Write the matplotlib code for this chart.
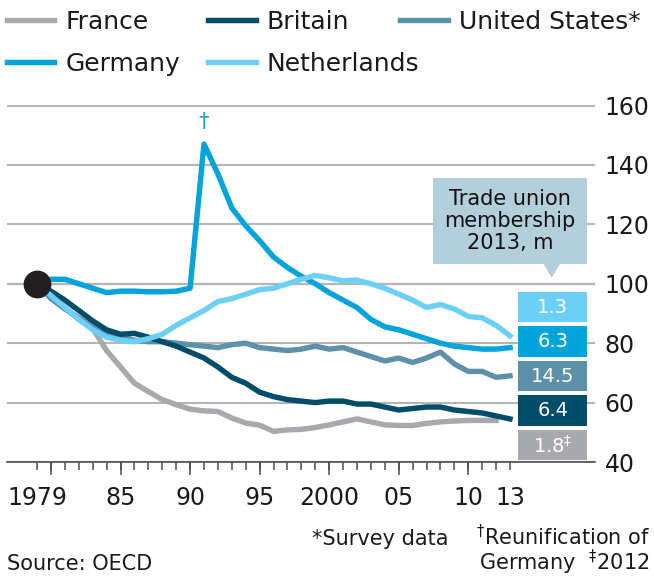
import numpy as np
import matplotlib
matplotlib.use("Agg")
import matplotlib.pyplot as plt
from matplotlib.patches import Rectangle, Polygon

# index, 1979 = 100
years = list(range(1979, 2014))

france = [100, 96, 92, 88, 85, 77.5, 72, 66.5, 63.7, 61, 59.3, 57.8, 57.2, 57, 54.8,
          53.1, 52.4, 50.3, 50.8, 51, 51.6, 52.5, 53.5, 54.5, 53.5, 52.5, 52.3, 52.3,
          53, 53.5, 53.8, 54, 54, 54, np.nan]
britain = [100, 97.5, 94.5, 91, 87.5, 84.5, 83, 83.3, 82, 80.5, 79, 77, 75, 72, 68.5,
           66.5, 63.5, 62, 61, 60.5, 60, 60.5, 60.5, 59.5, 59.5, 58.5, 57.5, 58, 58.5,
           58.5, 57.5, 57, 56.5, 55.5, 54.5]
united_states = [100, 95, 91.5, 88.5, 85.5, 83, 82, 81, 80.5, 80.5, 80, 79.5, 79, 78.5,
                 79.5, 80, 78.5, 78, 77.5, 78, 79, 78, 78.5, 77, 75.5, 74, 75, 73.5, 75,
                 77, 73, 70.5, 70.5, 68.5, 69]
germany = [100, 101.5, 101.5, 100, 98.5, 97, 97.5, 97.5, 97.3, 97.3, 97.5, 98.5, 147,
           137, 125.5, 119.5, 114.5, 109, 105.5, 102.5, 100, 97, 94.5, 92, 88, 85.5,
           84.5, 83, 81.5, 80, 79, 78.5, 78, 78, 78.5]
netherlands = [100, 96, 92, 88, 84.5, 82, 81, 80.5, 81.5, 83, 86, 88.5, 91, 94, 95, 96.5,
               98, 98.5, 100, 101.5, 102.8, 102, 101, 101.2, 100, 98.5, 96.5, 94.5, 92,
               93, 91.5, 89, 88.5, 86, 82.5]

# trade union membership 2013, millions (top to bottom)
members = ["1.3", "6.3", "14.5", "6.4", "1.8$^{\\ddagger}$"]

tick_years = [1979, 1985, 1990, 1995, 2000, 2005, 2010, 2013]
tick_labels = ["1979", "85", "90", "95", "2000", "05", "10", "13"]

c_france = "#a7a9ac"
c_britain = "#004d6a"
c_us = "#5d91aa"
c_germany = "#00a4db"
c_nl = "#6ccff6"

fig = plt.figure(figsize=(6.54, 5.79), dpi=100)
ax = fig.add_axes([7 / 654, 117 / 579, 588 / 654, 356.5 / 579])

lw = 3.9
l_fr, = ax.plot(years, france, color=c_france, lw=lw, label="France", zorder=3)
l_us, = ax.plot(years, united_states, color=c_us, lw=lw, label="United States*", zorder=4)
l_br, = ax.plot(years, britain, color=c_britain, lw=lw, label="Britain", zorder=5)
l_de, = ax.plot(years, germany, color=c_germany, lw=lw, label="Germany", zorder=6)
l_nl, = ax.plot(years, netherlands, color=c_nl, lw=lw, label="Netherlands", zorder=7)
ax.plot([years[0]], [germany[0]], "o", color="#231f20", ms=19, zorder=10)

ax.text(1991, 151, "\u2020", color=c_germany, fontsize=15, ha="center", va="bottom")

ax.set_xlim(1976.84, 2019.11)
ax.set_ylim(40, 160)

# grid and reference line
ax.set_yticks([40, 60, 80, 100, 120, 140, 160])
ax.yaxis.tick_right()
ax.tick_params(axis="y", length=0, pad=7, labelsize=17, labelcolor="#1a1a1a")
ax.grid(axis="y", color="#b5b5b5", lw=1.5, zorder=0)
ax.axhline(100, color="#e3120b", lw=1.5, zorder=1)

for s in ["top", "left", "right"]:
    ax.spines[s].set_visible(False)
ax.spines["bottom"].set_color("#4d4d4d")
ax.spines["bottom"].set_linewidth(1.2)
ax.spines["bottom"].set_zorder(2)

ax.xaxis.remove_overlapping_locs = False
ax.set_xticks(tick_years, tick_labels)
ax.set_xticks(years, minor=True)
ax.tick_params(axis="x", which="major", length=0, pad=17, labelsize=17, labelcolor="#1a1a1a")
ax.tick_params(axis="x", which="minor", length=6, width=1.1, color="#4d4d4d")
sec = ax.secondary_xaxis("bottom")
sec.set_xticks(range(1980, 2011, 5))
sec.tick_params(length=9.5, width=1.1, color="#4d4d4d", labelbottom=False)
sec.spines["bottom"].set_visible(False)

# membership boxes
box_colors = [c_nl, c_germany, c_us, c_britain, "#a7a9ac"]
box_bottoms = [87.0, 75.4, 63.8, 52.2, 40.6]
for lab, col, b in zip(members, box_colors, box_bottoms):
    ax.add_patch(Rectangle((2013.6, b), 4.95, 10.3, color=col, zorder=8, lw=0))
    ax.text(2016.07, b + 5.0, lab, color="white", fontsize=14, ha="center",
            va="center", zorder=9)

# callout
call_col = "#b3cfdc"
ax.add_patch(Rectangle((2007.47, 106.6), 11.07, 29.0, color=call_col, lw=0, zorder=8))
ax.add_patch(Polygon([(2015.4, 106.7), (2016.6, 106.7), (2016.0, 102.0)],
                     closed=True, color=call_col, lw=0, zorder=8))
ax.text(2013.0, 121.2, "Trade union\nmembership\n2013, m", fontsize=15, ha="center",
        va="center", linespacing=1.12, color="#111111", zorder=9)

# legend, laid out like the original
legend_spots = [(l_fr, 7, 22), (l_br, 208, 22), (l_us, 400, 22),
                (l_de, 7, 64), (l_nl, 208, 64)]
for h, px, py in legend_spots:
    fig.legend(handles=[h], labels=[h.get_label()], loc="center left",
               bbox_to_anchor=(px / 654, 1 - py / 579), frameon=False,
               borderpad=0, borderaxespad=0, handlelength=1.9, handletextpad=0.45,
               fontsize=18, labelcolor="#1a1a1a")

# footnotes
fig.text(448 / 654, 1 - 545 / 579, "*Survey data", fontsize=15, ha="right",
         va="baseline", color="#1a1a1a")
fig.text(650 / 654, 1 - 545 / 579, "$^{\\dagger}$Reunification of", fontsize=15,
         ha="right", va="baseline", color="#1a1a1a")
fig.text(650 / 654, 1 - 570 / 579, "Germany  $^{\\ddagger}$2012", fontsize=15,
         ha="right", va="baseline", color="#1a1a1a")
fig.text(7 / 654, 1 - 570 / 579, "Source: OECD", fontsize=15, ha="left",
         va="baseline", color="#1a1a1a")

fig.savefig("out.png", dpi=100)
